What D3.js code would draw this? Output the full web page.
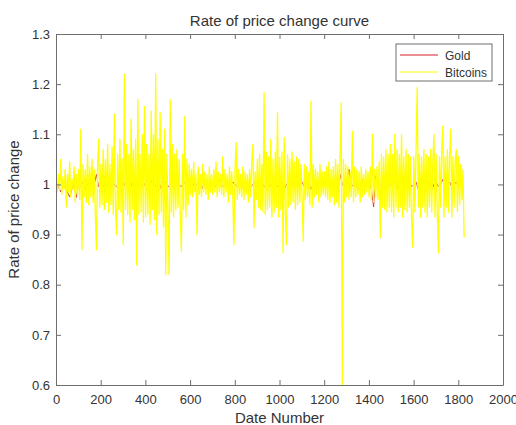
<!DOCTYPE html>
<html>
<head>
<meta charset="utf-8">
<script src="https://cdn.jsdelivr.net/npm/d3@7/dist/d3.min.js"></script>
<style>
  body { margin: 0; background: #fff; }
  text { font-family: "Liberation Sans", Arial, sans-serif; fill: #333; }
</style>
</head>
<body>
<svg id="chart" width="516" height="425"></svg>
<script>
// Daily rate of price change, sampled every 5 date numbers from date 1
const bitcoinStart = 1;
const bitcoinStep = 5;
const bitcoinRates = [
  1.01, .985, 1.02, .99, 1.05, .98, 1.015, .99, 1.03, .955, 1.02, .985, 1.045, .975, 1.01, .99, 1.035, .965, 1.02, .98,
  1.03, .97, 1.11, .87, 1.04, .975, 1.03, .965, 1.06, .96, 1.035, .975, 1.05, .965, 1.03, .94, .87, 1.04, 1.09, .955,
  1.04, .96, 1.07, .95, 1.05, .965, 1.08, .945, 1.04, .96, 1.075, .94, 1.14, .955, .90, 1.06, .95, 1.09, .945, 1.05,
  .88, 1.22, .95, 1.08, .94, 1.06, .925, 1.13, .95, 1.07, .93, 1.09, .84, 1.17, .94, 1.06, .945, 1.10, .925, 1.155,
  .935, 1.08, .94, 1.06, .92, 1.146, .95, 1.10, .93, 1.22, .90, 1.09, .94, 1.143, .945, 1.07, .915, 1.11, .82, 1.06,
  .935, .82, 1.169, .945, 1.08, .935, 1.06, .95, 1.07, .955, 1.05, .94, .867, 1.06, .95, 1.135, .935, 1.05, .96, 1.04,
  .98, 1.03, .975, 1.045, .985, 1.02, .90, 1.035, .98, 1.02, .975, 1.04, .985, 1.025, .98, 1.02, .97, 1.035, .985, 1.02,
  .98, 1.03, .985, 1.045, .975, 1.025, .985, 1.02, .98, 1.055, .975, 1.03, .985, 1.02, .965, 1.035, .98, 1.025, .975, .88,
  1.03, 1.083, .97, 1.03, .98, 1.02, .975, 1.035, .97, 1.025, .98, 1.02, .965, 1.03, .975, 1.045, 1.08, .914, 1.025, .97,
  1.05, .955, 1.06, .95, 1.04, .945, 1.183, .94, 1.065, .95, 1.055, .955, 1.09, .935, 1.05, .945, 1.065, .955, 1.143, .935,
  1.055, .95, 1.065, .864, 1.094, .945, .88, 1.06, .955, 1.05, .96, 1.065, .965, 1.045, .95, 1.055, .96, 1.05, .965, 1.04,
  .975, .887, 1.04, .97, 1.035, .975, 1.025, .96, 1.166, .955, 1.04, .975, 1.03, .98, 1.025, .965, 1.04, .975, 1.025, .98,
  1.025, .975, 1.035, .97, 1.045, .965, 1.03, .975, 1.035, .96, 1.05, .965, 1.04, .955, 1.06, 1.163, .60, 1.05, .965, 1.04,
  .975, 1.035, .97, 1.025, .975, 1.106, .965, 1.035, .975, 1.03, .98, 1.025, .965, 1.035, .975, 1.02, .98, 1.03, .985, 1.025,
  .975, 1.035, .97, 1.10, .965, 1.03, .975, 1.035, .97, 1.045, .894, 1.06, .955, 1.055, .95, 1.07, .945, 1.06, .955, 1.08,
  .945, 1.06, .935, 1.10, .955, 1.07, .945, 1.06, .955, 1.10, .935, 1.055, .95, 1.07, .945, 1.06, .955, 1.055, .93, .875,
  1.055, .945, 1.07, 1.193, .955, 1.06, .935, 1.055, .955, 1.07, .945, 1.06, .935, 1.055, .955, 1.07, .945, 1.045, 1.10, .935,
  1.06, .945, .864, 1.055, .955, 1.065, 1.116, .935, 1.055, .955, 1.07, .945, 1.06, 1.11, .935, 1.055, .955, 1.045, 1.07, .945,
  1.056, .96, 1.04, .97, 1.03, .894
];

// Gold rate of price change, sampled every 10 date numbers from date 1
const goldStart = 1;
const goldStep = 10;
const goldRates = [
  1.0, .995, .985, 1.0, .995, .985, .975, .99, 1.0, .974,
  1.0, .995, 1.005, .99, 1.0, .995, 1.005, 1.0, 1.02, .995,
  1.0, .995, 1.005, 1.0, .99, 1.005, 1.0, .995, 1.005, 1.0,
  .995, 1.005, 1.0, .99, 1.005, 1.0, .995, 1.01, 1.0, .995,
  1.005, .995, 1.0, 1.01, .995, 1.0, 1.005, .99, 1.0, 1.005,
  .995, 1.0, 1.005, .995, 1.01, 1.0, .995, 1.005, 1.0, .995,
  1.0, 1.005, .995, 1.0, 1.005, .99, 1.0, 1.005, .995, 1.0,
  1.005, .995, 1.0, 1.01, .995, 1.0, 1.005, 1.0, .995, 1.005,
  1.0, .995, 1.005, 1.0, .99, 1.005, 1.0, .995, 1.0, 1.005,
  .995, 1.0, 1.005, .995, 1.0, 1.01, .995, 1.0, 1.005, .995,
  1.0, 1.005, .99, 1.0, 1.005, .995, 1.0, 1.01, .995, 1.0,
  1.005, .995, 1.0, 1.005, .99, 1.0, 1.005, .995, 1.0, 1.005,
  .995, 1.0, 1.01, .995, 1.0, 1.005, .99, 1.02, 1.0, .995,
  1.005, 1.03, .995, 1.0, 1.005, .99, 1.0, 1.01, .995, 1.0,
  1.005, .99, .955, 1.017, .995, 1.0, 1.005, .99, 1.0, 1.005,
  .995, 1.0, 1.01, .99, 1.0, 1.005, .995, 1.0, 1.01, .995,
  1.0, 1.005, .99, 1.0, 1.01, .995, 1.0, 1.005, .99, 1.0,
  1.005, .995, 1.0, 1.01, .99, 1.0, 1.005, .995, 1.0, 1.005,
  .995, 1.0, .99
];

const xTicks = [0, 200, 400, 600, 800, 1000, 1200, 1400, 1600, 1800, 2000];
const yTicks = [0.6, 0.7, 0.8, 0.9, 1.0, 1.1, 1.2, 1.3];
const seriesNames = ["Gold", "Bitcoins"];
const seriesColors = ["#d8202a", "#ffff00"];

const svg = d3.select("#chart");
const plot = { left: 56, right: 503, top: 34, bottom: 385 };

const x = d3.scaleLinear().domain([0, 2000]).range([plot.left, plot.right]);
const y = d3.scaleLinear().domain([0.6, 1.3]).range([plot.bottom, plot.top]);

svg.append("rect").attr("width", 516).attr("height", 425).attr("fill", "#fff");

svg.append("defs").append("clipPath").attr("id", "plot-clip")
  .append("rect")
  .attr("x", plot.left).attr("y", plot.top)
  .attr("width", plot.right - plot.left).attr("height", plot.bottom - plot.top);

const toPoints = (rates, start, step) => rates.map((v, i) => [start + i * step, v]);
const line = d3.line().x(d => x(d[0])).y(d => y(d[1]));

const lines = svg.append("g").attr("clip-path", "url(#plot-clip)");
lines.append("path")
  .datum(toPoints(goldRates, goldStart, goldStep))
  .attr("fill", "none").attr("stroke", seriesColors[0]).attr("stroke-width", 0.8)
  .attr("d", line);
lines.append("path")
  .datum(toPoints(bitcoinRates, bitcoinStart, bitcoinStep))
  .attr("fill", "none").attr("stroke", seriesColors[1]).attr("stroke-width", 1.3)
  .attr("stroke-linejoin", "round")
  .attr("d", line);

// Axes: ticks point inward, box on all four sides
const axisColor = "#6e6e6e";
const tickLabel = d3.format("~g");
function styleAxis(g) {
  g.attr("font-size", null).attr("font-family", null);
  g.selectAll("path.domain").attr("stroke", axisColor);
  g.selectAll(".tick line").attr("stroke", axisColor);
  g.selectAll(".tick text").attr("fill", "#333").style("font-size", "13px");
}
svg.append("g").attr("transform", `translate(0,${plot.bottom})`)
  .call(d3.axisBottom(x).tickValues(xTicks).tickSizeInner(-5).tickSizeOuter(0).tickPadding(10).tickFormat(tickLabel))
  .call(styleAxis);
svg.append("g").attr("transform", `translate(0,${plot.top})`)
  .call(d3.axisTop(x).tickValues(xTicks).tickSizeInner(-5).tickSizeOuter(0).tickFormat(""))
  .call(styleAxis);
svg.append("g").attr("transform", `translate(${plot.left},0)`)
  .call(d3.axisLeft(y).tickValues(yTicks).tickSizeInner(-5).tickSizeOuter(0).tickPadding(6).tickFormat(tickLabel))
  .call(styleAxis);
svg.append("g").attr("transform", `translate(${plot.right},0)`)
  .call(d3.axisRight(y).tickValues(yTicks).tickSizeInner(-5).tickSizeOuter(0).tickFormat(""))
  .call(styleAxis);

// Titles
svg.append("text").attr("x", (plot.left + plot.right) / 2).attr("y", 26)
  .attr("text-anchor", "middle").style("font-size", "15px").attr("fill", "#222")
  .text("Rate of price change curve");
svg.append("text").attr("x", (plot.left + plot.right) / 2).attr("y", 423)
  .attr("text-anchor", "middle").style("font-size", "15px").attr("fill", "#333")
  .text("Date Number");
svg.append("text")
  .attr("transform", `translate(19,${(plot.top + plot.bottom) / 2}) rotate(-90)`)
  .attr("text-anchor", "middle").style("font-size", "15px").attr("fill", "#333")
  .text("Rate of price change");

// Legend
const legend = svg.append("g").attr("transform", "translate(396,44)");
legend.append("rect").attr("width", 96).attr("height", 37)
  .attr("fill", "#fff").attr("stroke", axisColor).attr("stroke-width", 1);
seriesNames.forEach((name, i) => {
  const row = legend.append("g").attr("transform", `translate(0,${11 + i * 17})`);
  row.append("line").attr("x1", 4).attr("x2", 42).attr("y1", 0).attr("y2", 0)
    .attr("stroke", seriesColors[i]).attr("stroke-width", 1);
  row.append("text").attr("x", 49).attr("y", 4.5)
    .style("font-size", "12px").attr("fill", "#222").text(name);
});
</script>
</body>
</html>
